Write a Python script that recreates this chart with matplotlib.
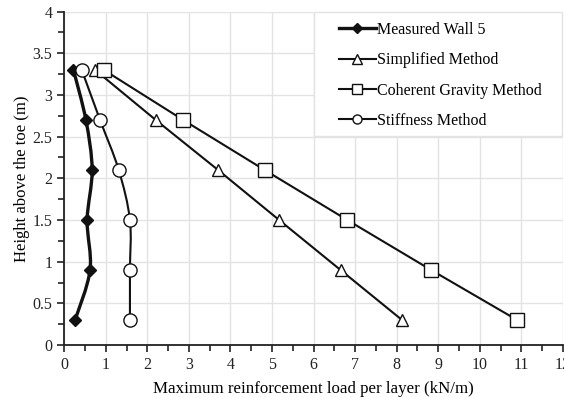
import numpy as np
import matplotlib
matplotlib.use("Agg")
import matplotlib.pyplot as plt
from matplotlib.path import Path
from matplotlib.patches import PathPatch, Rectangle
from matplotlib.lines import Line2D
from matplotlib.ticker import MultipleLocator

plt.rcParams['font.family'] = ['Liberation Serif', 'DejaVu Serif']

heights = [0.3, 0.9, 1.5, 2.1, 2.7, 3.3]
measured = [0.26, 0.62, 0.55, 0.67, 0.52, 0.22]
simplified = [8.13, 6.65, 5.17, 3.70, 2.20, 0.74]
coherent = [10.9, 8.83, 6.81, 4.82, 2.86, 0.95]
stiffness = [1.58, 1.58, 1.58, 1.31, 0.86, 0.42]

labels = ["Measured Wall 5", "Simplified Method", "Coherent Gravity Method", "Stiffness Method"]


def smooth_path(xs, ys):
    # Catmull-Rom style bezier through points (like a spreadsheet smoothed line)
    pts = np.column_stack([xs, ys]).astype(float)
    n = len(pts)
    verts = [pts[0]]
    codes = [Path.MOVETO]
    for i in range(n - 1):
        p0 = pts[i - 1] if i > 0 else pts[i]
        p1 = pts[i]
        p2 = pts[i + 1]
        p3 = pts[i + 2] if i + 2 < n else pts[i + 1]
        c1 = p1 + (p2 - p0) / 6.0
        c2 = p2 - (p3 - p1) / 6.0
        verts += [c1, c2, p2]
        codes += [Path.CURVE4] * 3
    return Path(verts, codes)


fig = plt.figure(figsize=(5.64, 3.98), dpi=100)
ax = fig.add_axes([0.114, 0.133, 0.884, 0.838])

ax.set_xlim(0, 12)
ax.set_ylim(0, 4)
ax.xaxis.set_major_locator(MultipleLocator(1))
ax.xaxis.set_minor_locator(MultipleLocator(0.5))
ax.yaxis.set_major_locator(MultipleLocator(0.5))
ax.yaxis.set_minor_locator(MultipleLocator(0.25))
ax.grid(True, which='major', color='#e3e3e3', linewidth=1.0)
ax.set_axisbelow(True)
for s in ['top', 'right']:
    ax.spines[s].set_visible(False)
for s in ['left', 'bottom']:
    ax.spines[s].set_linewidth(1.3)
    ax.spines[s].set_color('#222222')
ax.tick_params(which='major', direction='out', length=5, width=1.2, colors='#222222', labelsize=11.5)
ax.tick_params(which='minor', direction='out', length=4, width=1.2, colors='#222222')
ax.set_yticks(np.arange(0, 4.01, 0.5))
ax.set_yticklabels(['0', '0.5', '1', '1.5', '2', '2.5', '3', '3.5', '4'])

# smoothed curves
ax.add_patch(PathPatch(smooth_path(measured, heights), fill=False, lw=2.4, edgecolor='#111111', zorder=3))
ax.add_patch(PathPatch(smooth_path(stiffness, heights), fill=False, lw=1.5, edgecolor='#111111', zorder=3))

ax.plot(measured, heights, ls='none', marker='D', ms=6, mfc='#111111', mec='#111111', zorder=4)
ax.plot(simplified, heights, color='#111111', lw=1.5, marker='^', ms=9, mfc='white', mec='#111111', mew=1.0, zorder=4)
ax.plot(coherent, heights, color='#111111', lw=1.5, marker='s', ms=9.5, mfc='white', mec='#111111', mew=1.0, zorder=4)
ax.plot(stiffness, heights, ls='none', marker='o', ms=9.5, mfc='white', mec='#111111', mew=1.0, zorder=4)

# legend box
ax.add_patch(Rectangle((0.5008, 0.627), 0.4972, 0.372, transform=ax.transAxes,
                       facecolor='white', edgecolor='#e3e3e3', lw=1.0, zorder=5, clip_on=False))

lh = [Line2D([], [], color='#111111', lw=2.4, marker='D', ms=5, mfc='#111111'),
      Line2D([], [], color='#111111', lw=1.5, marker='^', ms=6.5, mfc='white', mew=1.0),
      Line2D([], [], color='#111111', lw=1.5, marker='s', ms=6.5, mfc='white', mew=1.0),
      Line2D([], [], color='#111111', lw=1.5, marker='o', ms=6.5, mfc='white', mew=1.0)]
leg = ax.legend(lh, labels, loc='upper left', bbox_to_anchor=(0.551, 0.969), fontsize=11.5,
                frameon=False, handlelength=2.3, handletextpad=0.1, labelspacing=0.9,
                borderpad=0.0, borderaxespad=0.0)
leg.set_zorder(6)

ax.set_xlabel('Maximum reinforcement load per layer (kN/m)', fontsize=12.2, labelpad=6)
ax.set_ylabel('Height above the toe (m)', fontsize=12, labelpad=2)

fig.savefig('out.png', dpi=100)
